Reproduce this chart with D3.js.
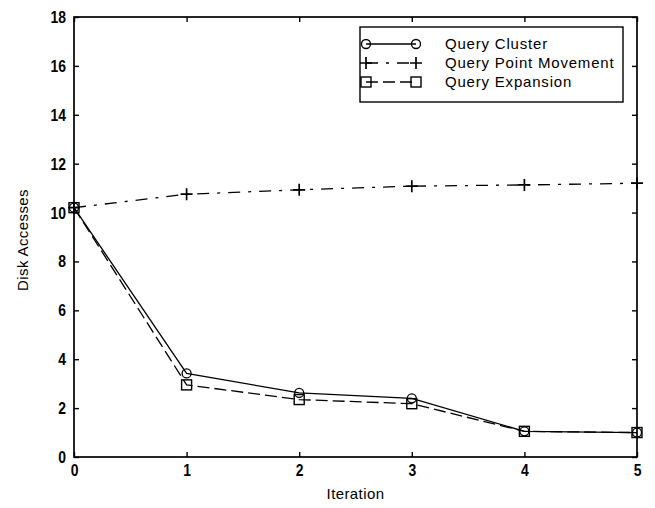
<!DOCTYPE html>
<html><head><meta charset="utf-8">
<script src="https://cdn.jsdelivr.net/npm/d3@7"></script>
<style>
html,body{margin:0;padding:0;background:#fff;}
svg text{font-family:"Liberation Sans",Arial,Helvetica,sans-serif;fill:#000;}
</style>
</head><body>
<svg id="chart" width="655" height="508"></svg>
<script>
const iterations = [0, 1, 2, 3, 4, 5];
const queryCluster = [10.2, 3.42, 2.62, 2.4, 1.05, 1.0];
const queryPointMovement = [10.2, 10.75, 10.93, 11.08, 11.13, 11.2];
const queryExpansion = [10.2, 2.95, 2.35, 2.18, 1.05, 1.0];
const xTicks = [0, 1, 2, 3, 4, 5];
const yTicks = [0, 2, 4, 6, 8, 10, 12, 14, 16, 18];
const seriesNames = ["Query Cluster", "Query Point Movement", "Query Expansion"];

const svg = d3.select("#chart");
const L = 74, R = 637, T = 17, B = 457;
const x = d3.scaleLinear().domain([0, 5]).range([L, R]);
const y = d3.scaleLinear().domain([0, 18]).range([B, T]);

const series = [
  {name: seriesNames[0], values: queryCluster, dash: null, marker: "circle"},
  {name: seriesNames[1], values: queryPointMovement, dash: "12,8,3,8", marker: "plus"},
  {name: seriesNames[2], values: queryExpansion, dash: "12,5", marker: "square"}
];

// axes box
svg.append("rect").attr("x", L).attr("y", T).attr("width", R - L).attr("height", B - T)
  .attr("fill", "none").attr("stroke", "#000").attr("stroke-width", 1.7);

const tl = 5;
const gx = svg.append("g").attr("transform", `translate(0,${B})`)
  .call(d3.axisBottom(x).tickValues(xTicks).tickSize(-tl).tickPadding(7).tickFormat(d3.format("d")));
svg.append("g").attr("transform", `translate(0,${T})`)
  .call(d3.axisTop(x).tickValues(xTicks).tickSize(-tl).tickFormat(""));
const gy = svg.append("g").attr("transform", `translate(${L},0)`)
  .call(d3.axisLeft(y).tickValues(yTicks).tickSize(-tl).tickPadding(8).tickFormat(d3.format("d")));
svg.append("g").attr("transform", `translate(${R},0)`)
  .call(d3.axisRight(y).tickValues(yTicks).tickSize(-tl).tickFormat(""));

svg.selectAll(".domain").remove();
svg.selectAll(".tick line").attr("stroke", "#000").attr("stroke-width", 1.4);

// condensed, heavier tick labels (MATLAB bitmap style)
const tickFont = g => g.selectAll(".tick text")
  .style("font-size", "17px").style("font-weight", "bold");
tickFont(gx); tickFont(gy);
gx.selectAll(".tick text").attr("dy", "0.71em").attr("transform", "scale(0.82,1)");
gy.selectAll(".tick text").attr("x", -8 / 0.82).attr("transform", "scale(0.82,1)");

// axis labels
svg.append("text").attr("x", (L + R) / 2).attr("y", 499).attr("text-anchor", "middle")
  .style("font-size", "15px").style("letter-spacing", "0.4px").text("Iteration");
svg.append("text").attr("transform", `translate(28,${(T + B) / 2 + 3}) rotate(-90)`).attr("text-anchor", "middle")
  .style("font-size", "15px").style("letter-spacing", "0.4px").text("Disk Accesses");

const line = d3.line().x((d, i) => x(iterations[i])).y(d => y(d));

function drawMarker(g, type, cx, cy) {
  if (type === "circle") {
    g.append("circle").attr("cx", cx).attr("cy", cy).attr("r", 4.5)
      .attr("fill", "none").attr("stroke", "#000").attr("stroke-width", 1.3);
  } else if (type === "square") {
    g.append("rect").attr("x", cx - 5).attr("y", cy - 5).attr("width", 10).attr("height", 10)
      .attr("fill", "none").attr("stroke", "#000").attr("stroke-width", 1.4);
  } else {
    g.append("path").attr("d", `M${cx - 6},${cy}H${cx + 6}M${cx},${cy - 6}V${cy + 6}`)
      .attr("stroke", "#000").attr("stroke-width", 1.7).attr("fill", "none");
  }
}

series.forEach(s => {
  svg.append("path").datum(s.values).attr("d", line).attr("fill", "none")
    .attr("stroke", "#000").attr("stroke-width", 1.3)
    .attr("stroke-dasharray", s.dash);
  const g = svg.append("g");
  s.values.forEach((v, i) => drawMarker(g, s.marker, x(iterations[i]), y(v)));
});

// legend
const lg = svg.append("g");
lg.append("rect").attr("x", 360).attr("y", 27).attr("width", 263).attr("height", 75)
  .attr("fill", "#fff").attr("stroke", "#000").attr("stroke-width", 1.4);
series.forEach((s, i) => {
  const cy = 44 + i * 19;
  lg.append("line").attr("x1", 366).attr("x2", 416).attr("y1", cy).attr("y2", cy)
    .attr("stroke", "#000").attr("stroke-width", 1.3).attr("stroke-dasharray", s.dash);
  drawMarker(lg, s.marker, 366, cy);
  drawMarker(lg, s.marker, 416, cy);
  lg.append("text").attr("x", 445).attr("y", cy).attr("dy", "0.36em")
    .style("font-size", "15px").style("letter-spacing", "0.8px").text(s.name);
});
</script>
</body></html>
